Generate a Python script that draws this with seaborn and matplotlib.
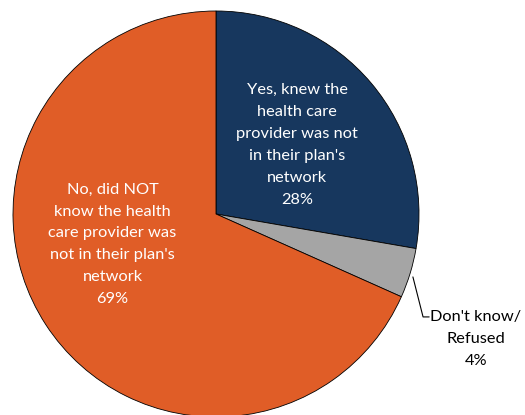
import matplotlib
matplotlib.use("Agg")
import matplotlib.pyplot as plt
import seaborn as sns

sns.set_theme(style="white")
plt.rcParams["font.family"] = ["Lato", "DejaVu Sans"]

categories = [
    "Yes, knew the\nhealth care\nprovider was not\nin their plan's\nnetwork",
    "Don't know/\nRefused",
    "No, did NOT\nknow the health\ncare provider was\nnot in their plan's\nnetwork",
]
values = [28, 4, 69]
colors = ["#17375E", "#A5A5A5", "#E05D27"]

W, H = 525, 415
fig = plt.figure(figsize=(W / 100, H / 100), dpi=100)
cx, cy, r = 216, 214, 203
ax = fig.add_axes([(cx - r) / W, (H - cy - r) / H, 2 * r / W, 2 * r / H])

ax.pie(values, colors=colors, startangle=90, counterclock=False, radius=1,
       wedgeprops=dict(edgecolor="black", linewidth=0.6))
ax.set_xlim(-1, 1)
ax.set_ylim(-1, 1)
ax.set_aspect("equal")
ax.axis("off")

fs = 11.8
ls = 1.72
ax.text(0.40, 0.34, f"{categories[0]}\n{values[0]}%", ha="center", va="center",
        color="white", fontsize=fs, linespacing=ls)
ax.text(-0.51, -0.15, f"{categories[2]}\n{values[2]}%", ha="center", va="center",
        color="white", fontsize=fs, linespacing=ls)
ax.text(1.28, -0.615, f"{categories[1]}\n{values[1]}%", ha="center", va="center",
        color="black", fontsize=fs, linespacing=ls, clip_on=False)
ax.plot([0.97, 1.02, 1.05], [-0.31, -0.507, -0.507], color="black", lw=0.8,
        clip_on=False)

fig.savefig("out.png", dpi=100)
